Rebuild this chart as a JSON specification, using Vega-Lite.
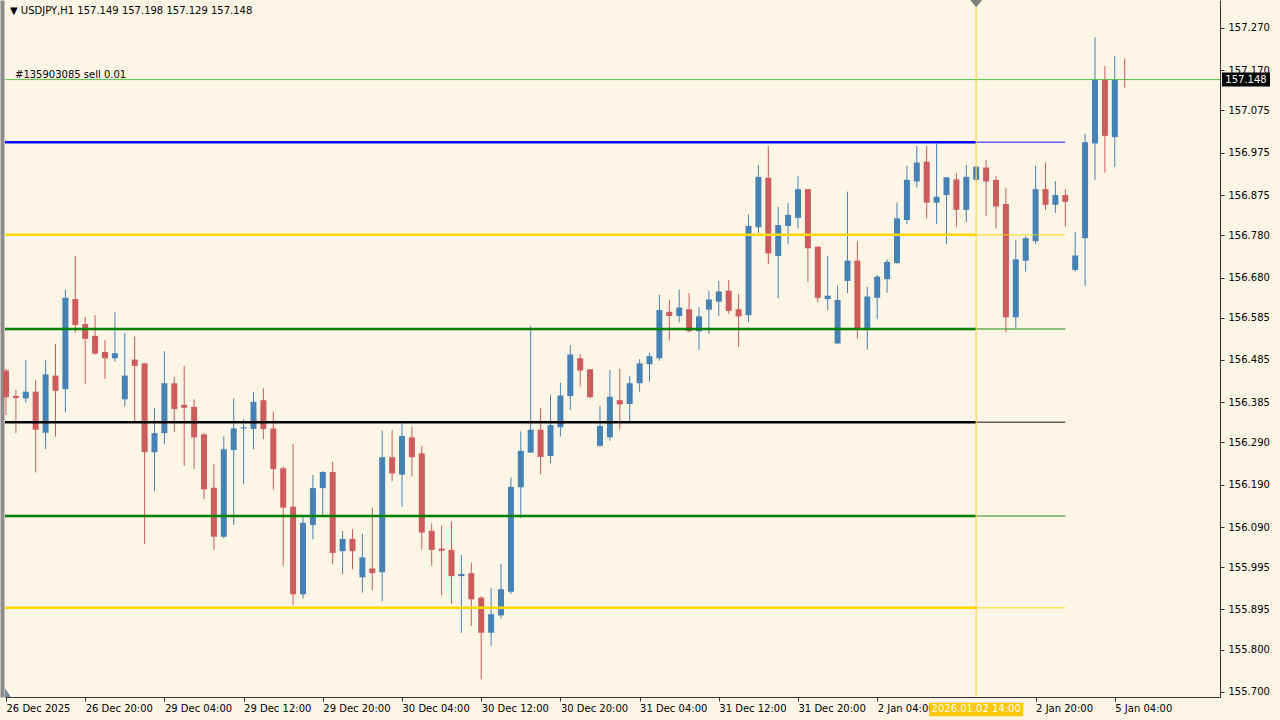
{
  "$schema": "https://vega.github.io/schema/vega-lite/v6.json",
  "width": 1215,
  "height": 697,
  "autosize": {"type": "none"},
  "padding": {"left": 5, "top": 0, "right": 60, "bottom": 23},
  "background": "#FDF5E6",
  "config": {
    "view": {"stroke": null},
    "axis": {"labelFont": "DejaVu Sans", "labelFontSize": 10, "labelColor": "#000000", "tickColor": "#333333", "domainColor": "#333333", "grid": false, "title": null}
  },
  "datasets": {
    "candles": [
      {"i":0,"o":156.460,"h":156.464,"l":156.355,"c":156.397},
      {"i":1,"o":156.400,"h":156.414,"l":156.312,"c":156.395},
      {"i":2,"o":156.394,"h":156.485,"l":156.384,"c":156.410},
      {"i":3,"o":156.410,"h":156.438,"l":156.219,"c":156.320},
      {"i":4,"o":156.313,"h":156.485,"l":156.274,"c":156.451},
      {"i":5,"o":156.448,"h":156.523,"l":156.304,"c":156.412},
      {"i":6,"o":156.416,"h":156.651,"l":156.361,"c":156.632},
      {"i":7,"o":156.629,"h":156.731,"l":156.550,"c":156.568},
      {"i":8,"o":156.570,"h":156.587,"l":156.428,"c":156.535},
      {"i":9,"o":156.542,"h":156.591,"l":156.498,"c":156.500},
      {"i":10,"o":156.504,"h":156.532,"l":156.440,"c":156.489},
      {"i":11,"o":156.489,"h":156.599,"l":156.481,"c":156.501},
      {"i":12,"o":156.392,"h":156.549,"l":156.376,"c":156.448},
      {"i":13,"o":156.486,"h":156.540,"l":156.339,"c":156.471},
      {"i":14,"o":156.477,"h":156.478,"l":156.050,"c":156.267},
      {"i":15,"o":156.267,"h":156.371,"l":156.175,"c":156.312},
      {"i":16,"o":156.312,"h":156.506,"l":156.286,"c":156.430},
      {"i":17,"o":156.430,"h":156.445,"l":156.314,"c":156.369},
      {"i":18,"o":156.379,"h":156.471,"l":156.235,"c":156.372},
      {"i":19,"o":156.374,"h":156.392,"l":156.227,"c":156.302},
      {"i":20,"o":156.309,"h":156.313,"l":156.156,"c":156.179},
      {"i":21,"o":156.183,"h":156.239,"l":156.036,"c":156.067},
      {"i":22,"o":156.067,"h":156.304,"l":156.063,"c":156.274},
      {"i":23,"o":156.272,"h":156.394,"l":156.095,"c":156.323},
      {"i":24,"o":156.323,"h":156.345,"l":156.191,"c":156.326},
      {"i":25,"o":156.322,"h":156.409,"l":156.274,"c":156.386},
      {"i":26,"o":156.390,"h":156.418,"l":156.298,"c":156.322},
      {"i":27,"o":156.323,"h":156.363,"l":156.178,"c":156.227},
      {"i":28,"o":156.229,"h":156.233,"l":155.998,"c":156.136},
      {"i":29,"o":156.138,"h":156.286,"l":155.906,"c":155.931},
      {"i":30,"o":155.931,"h":156.114,"l":155.920,"c":156.100},
      {"i":31,"o":156.095,"h":156.213,"l":156.061,"c":156.182},
      {"i":32,"o":156.182,"h":156.222,"l":156.114,"c":156.220},
      {"i":33,"o":156.220,"h":156.244,"l":156.002,"c":156.029},
      {"i":34,"o":156.033,"h":156.081,"l":155.979,"c":156.062},
      {"i":35,"o":156.062,"h":156.085,"l":155.990,"c":156.033},
      {"i":36,"o":155.971,"h":156.074,"l":155.935,"c":156.018},
      {"i":37,"o":155.992,"h":156.136,"l":155.941,"c":155.981},
      {"i":38,"o":155.983,"h":156.318,"l":155.915,"c":156.255},
      {"i":39,"o":156.255,"h":156.319,"l":156.198,"c":156.217},
      {"i":40,"o":156.214,"h":156.335,"l":156.138,"c":156.305},
      {"i":41,"o":156.302,"h":156.327,"l":156.209,"c":156.255},
      {"i":42,"o":156.264,"h":156.282,"l":156.037,"c":156.077},
      {"i":43,"o":156.081,"h":156.099,"l":155.998,"c":156.036},
      {"i":44,"o":156.039,"h":156.093,"l":155.929,"c":156.034},
      {"i":45,"o":156.036,"h":156.103,"l":155.908,"c":155.974},
      {"i":46,"o":155.974,"h":156.024,"l":155.840,"c":155.979},
      {"i":47,"o":155.981,"h":156.006,"l":155.856,"c":155.919},
      {"i":48,"o":155.923,"h":155.927,"l":155.730,"c":155.840},
      {"i":49,"o":155.840,"h":155.945,"l":155.809,"c":155.884},
      {"i":50,"o":155.881,"h":156.003,"l":155.874,"c":155.943},
      {"i":51,"o":155.937,"h":156.207,"l":155.932,"c":156.185},
      {"i":52,"o":156.184,"h":156.316,"l":156.111,"c":156.270},
      {"i":53,"o":156.266,"h":156.565,"l":156.265,"c":156.320},
      {"i":54,"o":156.320,"h":156.371,"l":156.215,"c":156.256},
      {"i":55,"o":156.258,"h":156.403,"l":156.241,"c":156.331},
      {"i":56,"o":156.326,"h":156.431,"l":156.304,"c":156.401},
      {"i":57,"o":156.400,"h":156.520,"l":156.367,"c":156.498},
      {"i":58,"o":156.489,"h":156.499,"l":156.422,"c":156.460},
      {"i":59,"o":156.463,"h":156.463,"l":156.394,"c":156.397},
      {"i":60,"o":156.282,"h":156.376,"l":156.280,"c":156.329},
      {"i":61,"o":156.302,"h":156.461,"l":156.294,"c":156.398},
      {"i":62,"o":156.390,"h":156.464,"l":156.321,"c":156.380},
      {"i":63,"o":156.381,"h":156.447,"l":156.339,"c":156.430},
      {"i":64,"o":156.430,"h":156.487,"l":156.410,"c":156.477},
      {"i":65,"o":156.475,"h":156.502,"l":156.434,"c":156.494},
      {"i":66,"o":156.489,"h":156.639,"l":156.483,"c":156.603},
      {"i":67,"o":156.599,"h":156.627,"l":156.531,"c":156.589},
      {"i":68,"o":156.589,"h":156.652,"l":156.574,"c":156.609},
      {"i":69,"o":156.605,"h":156.643,"l":156.551,"c":156.553},
      {"i":70,"o":156.553,"h":156.610,"l":156.509,"c":156.588},
      {"i":71,"o":156.604,"h":156.649,"l":156.548,"c":156.628},
      {"i":72,"o":156.623,"h":156.672,"l":156.589,"c":156.647},
      {"i":73,"o":156.649,"h":156.674,"l":156.594,"c":156.601},
      {"i":74,"o":156.605,"h":156.641,"l":156.516,"c":156.588},
      {"i":75,"o":156.591,"h":156.829,"l":156.574,"c":156.802},
      {"i":76,"o":156.799,"h":156.946,"l":156.785,"c":156.918},
      {"i":77,"o":156.916,"h":156.991,"l":156.712,"c":156.737},
      {"i":78,"o":156.731,"h":156.847,"l":156.631,"c":156.804},
      {"i":79,"o":156.802,"h":156.856,"l":156.759,"c":156.828},
      {"i":80,"o":156.821,"h":156.920,"l":156.796,"c":156.889},
      {"i":81,"o":156.889,"h":156.889,"l":156.670,"c":156.749},
      {"i":82,"o":156.753,"h":156.753,"l":156.621,"c":156.632},
      {"i":83,"o":156.629,"h":156.731,"l":156.603,"c":156.637},
      {"i":84,"o":156.524,"h":156.661,"l":156.523,"c":156.627},
      {"i":85,"o":156.672,"h":156.883,"l":156.643,"c":156.720},
      {"i":86,"o":156.720,"h":156.765,"l":156.536,"c":156.558},
      {"i":87,"o":156.558,"h":156.658,"l":156.509,"c":156.635},
      {"i":88,"o":156.632,"h":156.686,"l":156.581,"c":156.682},
      {"i":89,"o":156.676,"h":156.723,"l":156.644,"c":156.717},
      {"i":90,"o":156.714,"h":156.857,"l":156.713,"c":156.820},
      {"i":91,"o":156.816,"h":156.944,"l":156.806,"c":156.911},
      {"i":92,"o":156.907,"h":156.991,"l":156.893,"c":156.952},
      {"i":93,"o":156.954,"h":156.991,"l":156.820,"c":156.857},
      {"i":94,"o":156.857,"h":156.997,"l":156.807,"c":156.871},
      {"i":95,"o":156.875,"h":156.918,"l":156.759,"c":156.917},
      {"i":96,"o":156.912,"h":156.926,"l":156.800,"c":156.840},
      {"i":97,"o":156.840,"h":156.946,"l":156.811,"c":156.918},
      {"i":98,"o":156.911,"h":156.945,"l":156.908,"c":156.942},
      {"i":99,"o":156.940,"h":156.958,"l":156.825,"c":156.907},
      {"i":100,"o":156.911,"h":156.920,"l":156.796,"c":156.848},
      {"i":101,"o":156.854,"h":156.891,"l":156.550,"c":156.586},
      {"i":102,"o":156.586,"h":156.769,"l":156.560,"c":156.723},
      {"i":103,"o":156.720,"h":156.778,"l":156.694,"c":156.773},
      {"i":104,"o":156.766,"h":156.944,"l":156.759,"c":156.889},
      {"i":105,"o":156.889,"h":156.952,"l":156.840,"c":156.852},
      {"i":106,"o":156.852,"h":156.908,"l":156.833,"c":156.875},
      {"i":107,"o":156.875,"h":156.889,"l":156.801,"c":156.859},
      {"i":108,"o":156.698,"h":156.788,"l":156.694,"c":156.732},
      {"i":109,"o":156.773,"h":157.019,"l":156.660,"c":157.000},
      {"i":110,"o":156.997,"h":157.248,"l":156.911,"c":157.149},
      {"i":111,"o":157.149,"h":157.180,"l":156.928,"c":157.015},
      {"i":112,"o":157.012,"h":157.204,"l":156.942,"c":157.149},
      {"i":113,"o":157.149,"h":157.198,"l":157.129,"c":157.148}
    ],
    "levels": [
      {"name":"L1","price":157.000,"start":-2,"mid":98,"end":107},
      {"name":"L2","price":156.781,"start":-2,"mid":98,"end":107},
      {"name":"L3","price":156.558,"start":-2,"mid":98,"end":107},
      {"name":"L4","price":156.338,"start":-2,"mid":98,"end":107},
      {"name":"L5","price":156.116,"start":-2,"mid":98,"end":107},
      {"name":"L6","price":155.899,"start":-2,"mid":98,"end":107}
    ],
    "order": [
      {"label":"#135903085 sell 0.01","price":157.148,"start":-2,"end":130}
    ],
    "header": [
      {"text":"▼ USDJPY,H1  157.149 157.198 157.129 157.148"}
    ],
    "cursor": [
      {"bar":98,"time":"2026.01.02 14:00"}
    ],
    "last": [
      {"price":157.148,"text":"157.148"}
    ]
  },
  "resolve": {"axis": {"x": "independent", "y": "independent"}},
  "layer": [
    {
      "data": {"name": "candles"},
      "mark": {"type": "rule", "strokeWidth": 1},
      "encoding": {
        "x": {"field": "i", "type": "quantitative", "scale": {"domain": [-0.10101, 122.6263], "nice": false, "zero": false, "padding": 0},
          "axis": {"orient": "bottom", "values": [0,8,16,24,32,40,48,56,64,72,80,88,104,112], "labelExpr": "datum.value == 0 ? '26 Dec 2025' : datum.value == 8 ? '26 Dec 20:00' : datum.value == 16 ? '29 Dec 04:00' : datum.value == 24 ? '29 Dec 12:00' : datum.value == 32 ? '29 Dec 20:00' : datum.value == 40 ? '30 Dec 04:00' : datum.value == 48 ? '30 Dec 12:00' : datum.value == 56 ? '30 Dec 20:00' : datum.value == 64 ? '31 Dec 04:00' : datum.value == 72 ? '31 Dec 12:00' : datum.value == 80 ? '31 Dec 20:00' : datum.value == 88 ? '2 Jan 04:00' : datum.value == 104 ? '2 Jan 20:00' : '5 Jan 04:00'", "labelAlign": "left", "labelBaseline": "top", "labelPadding": 2, "tickSize": 4, "labelOverlap": false, "labelFlush": false, "zindex": 0}},
        "y": {"field": "l", "type": "quantitative", "scale": {"domain": [155.6881, 157.3362], "nice": false, "zero": false},
          "axis": {"orient": "right", "values": [155.7,155.8,155.895,155.995,156.09,156.19,156.29,156.385,156.485,156.585,156.68,156.78,156.875,156.975,157.075,157.17,157.27], "format": ".3f", "tickSize": 4, "labelPadding": 4, "labelOverlap": false, "labelFlush": false, "zindex": 0}},
        "y2": {"field": "h"},
        "color": {"condition": {"test": "datum.c >= datum.o", "value": "#4682B4"}, "value": "#CD5C5C"}
      }
    },
    {
      "data": {"name": "candles"},
      "mark": {"type": "bar", "width": 6},
      "encoding": {
        "x": {"field": "i", "type": "quantitative", "scale": {"domain": [-0.10101, 122.6263], "nice": false, "zero": false, "padding": 0}, "axis": null},
        "y": {"field": "o", "type": "quantitative", "scale": {"domain": [155.6881, 157.3362], "nice": false, "zero": false}, "axis": null},
        "y2": {"field": "c"},
        "color": {"condition": {"test": "datum.c >= datum.o", "value": "#4682B4"}, "value": "#CD5C5C"}
      }
    },
    {
      "data": {"name": "levels"},
      "mark": {"type": "rule", "strokeWidth": 2.5, "clip": true},
      "encoding": {
        "x": {"field": "start", "type": "quantitative", "scale": {"domain": [-0.10101, 122.6263], "nice": false, "zero": false, "padding": 0}, "axis": null},
        "x2": {"field": "mid"},
        "y": {"field": "price", "type": "quantitative", "scale": {"domain": [155.6881, 157.3362], "nice": false, "zero": false},
          "axis": {"orient": "left", "labels": false, "ticks": false, "domainColor": "#8C8C8C", "domainWidth": 4, "offset": 3, "zindex": 0}},
        "color": {"field": "name", "type": "nominal", "scale": {"domain": ["L1","L2","L3","L4","L5","L6"], "range": ["#0000FF","#FFD700","#008000","#000000","#008000","#FFD700"]}, "legend": null}
      }
    },
    {
      "data": {"name": "levels"},
      "mark": {"type": "rule", "strokeWidth": 1.5, "opacity": 0.6, "clip": true},
      "encoding": {
        "x": {"field": "mid", "type": "quantitative", "scale": {"domain": [-0.10101, 122.6263], "nice": false, "zero": false, "padding": 0}, "axis": null},
        "x2": {"field": "end"},
        "y": {"field": "price", "type": "quantitative", "scale": {"domain": [155.6881, 157.3362], "nice": false, "zero": false}, "axis": null},
        "color": {"field": "name", "type": "nominal", "scale": {"domain": ["L1","L2","L3","L4","L5","L6"], "range": ["#0000FF","#FFD700","#008000","#000000","#008000","#FFD700"]}, "legend": null}
      }
    },
    {
      "data": {"name": "order"},
      "mark": {"type": "rule", "strokeWidth": 1, "color": "#50C850", "clip": true},
      "encoding": {
        "x": {"field": "start", "type": "quantitative", "scale": {"domain": [-0.10101, 122.6263], "nice": false, "zero": false, "padding": 0}, "axis": null},
        "x2": {"field": "end"},
        "y": {"field": "price", "type": "quantitative", "scale": {"domain": [155.6881, 157.3362], "nice": false, "zero": false}, "axis": null}
      }
    },
    {
      "data": {"name": "order"},
      "mark": {"type": "text", "align": "left", "baseline": "alphabetic", "dx": 10, "dy": -2, "font": "DejaVu Sans", "fontSize": 10, "color": "#000000"},
      "encoding": {
        "x": {"datum": -0.10101, "type": "quantitative", "scale": {"domain": [-0.10101, 122.6263], "nice": false, "zero": false, "padding": 0}, "axis": null},
        "y": {"field": "price", "type": "quantitative", "scale": {"domain": [155.6881, 157.3362], "nice": false, "zero": false}, "axis": null},
        "text": {"field": "label"}
      }
    },
    {
      "data": {"name": "header"},
      "mark": {"type": "text", "align": "left", "baseline": "middle", "dx": 5, "dy": 11, "font": "DejaVu Sans", "fontSize": 10, "color": "#000000"},
      "encoding": {
        "x": {"datum": -0.10101, "type": "quantitative", "scale": {"domain": [-0.10101, 122.6263], "nice": false, "zero": false, "padding": 0}, "axis": null},
        "y": {"datum": 157.3362, "type": "quantitative", "scale": {"domain": [155.6881, 157.3362], "nice": false, "zero": false}, "axis": null},
        "text": {"field": "text"}
      }
    },
    {
      "data": {"name": "header"},
      "mark": {"type": "point", "shape": "M-0.67,-1L-0.67,1L0.67,1Z", "size": 81, "filled": true, "color": "#7A8FA6", "opacity": 1, "clip": false},
      "encoding": {
        "x": {"datum": 0.202, "type": "quantitative", "scale": {"domain": [-0.10101, 122.6263], "nice": false, "zero": false, "padding": 0}, "axis": null},
        "y": {"datum": 155.6988, "type": "quantitative", "scale": {"domain": [155.6881, 157.3362], "nice": false, "zero": false}, "axis": null}
      }
    },
    {
      "data": {"name": "cursor"},
      "mark": {"type": "rule", "color": "#FFD34D", "strokeWidth": 1.5, "opacity": 0.75},
      "encoding": {
        "x": {"field": "bar", "type": "quantitative", "scale": {"domain": [-0.10101, 122.6263], "nice": false, "zero": false, "padding": 0}, "axis": null}
      }
    },
    {
      "data": {"name": "cursor"},
      "mark": {"type": "point", "shape": "M-1,-0.6L1,-0.6L0,0.6Z", "size": 144, "filled": true, "color": "#7F7F7F", "opacity": 1, "clip": false},
      "encoding": {
        "x": {"field": "bar", "type": "quantitative", "scale": {"domain": [-0.10101, 122.6263], "nice": false, "zero": false, "padding": 0}, "axis": null},
        "y": {"datum": 157.3277, "type": "quantitative", "scale": {"domain": [155.6881, 157.3362], "nice": false, "zero": false}, "axis": null}
      }
    },
    {
      "data": {"name": "cursor"},
      "mark": {"type": "point", "shape": "M-1,-0.1436L1,-0.1436L1,0.1436L-1,0.1436Z", "size": 8836, "filled": true, "color": "#FFC800", "opacity": 1, "clip": false},
      "encoding": {
        "x": {"field": "bar", "type": "quantitative", "scale": {"domain": [-0.10101, 122.6263], "nice": false, "zero": false, "padding": 0}, "axis": null},
        "y": {"datum": 155.6586, "type": "quantitative", "scale": {"domain": [155.6881, 157.3362], "nice": false, "zero": false}, "axis": null}
      }
    },
    {
      "data": {"name": "cursor"},
      "mark": {"type": "text", "align": "center", "baseline": "middle", "font": "DejaVu Sans", "fontSize": 10, "color": "#FFFFFF", "clip": false},
      "encoding": {
        "x": {"field": "bar", "type": "quantitative", "scale": {"domain": [-0.10101, 122.6263], "nice": false, "zero": false, "padding": 0}, "axis": null},
        "y": {"datum": 155.6586, "type": "quantitative", "scale": {"domain": [155.6881, 157.3362], "nice": false, "zero": false}, "axis": null},
        "text": {"field": "time"}
      }
    },
    {
      "data": {"name": "last"},
      "mark": {"type": "point", "shape": "M-1,-0.2917L1,-0.2917L1,0.2917L-1,0.2917Z", "size": 2304, "filled": true, "color": "#000000", "opacity": 1, "clip": false},
      "encoding": {
        "x": {"datum": 125.2525, "type": "quantitative", "scale": {"domain": [-0.10101, 122.6263], "nice": false, "zero": false, "padding": 0}, "axis": null},
        "y": {"field": "price", "type": "quantitative", "scale": {"domain": [155.6881, 157.3362], "nice": false, "zero": false}, "axis": null}
      }
    },
    {
      "data": {"name": "last"},
      "mark": {"type": "text", "align": "center", "baseline": "middle", "font": "DejaVu Sans", "fontSize": 10, "color": "#FFFFFF", "clip": false},
      "encoding": {
        "x": {"datum": 125.2525, "type": "quantitative", "scale": {"domain": [-0.10101, 122.6263], "nice": false, "zero": false, "padding": 0}, "axis": null},
        "y": {"field": "price", "type": "quantitative", "scale": {"domain": [155.6881, 157.3362], "nice": false, "zero": false}, "axis": null},
        "text": {"field": "text"}
      }
    }
  ]
}
